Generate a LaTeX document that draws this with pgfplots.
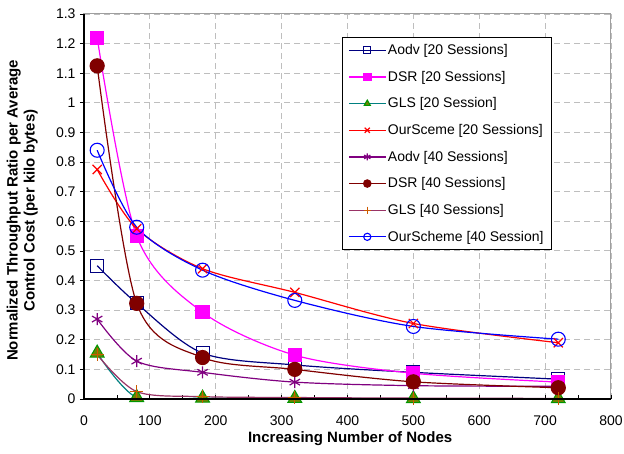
\documentclass[border=0pt]{standalone}
\usepackage{fontspec}
\setmainfont{Liberation Sans}
\usepackage{pgfplots}
\pgfplotsset{compat=1.18}
\definecolor{aodvA}{RGB}{0,0,128}
\definecolor{dsrA}{RGB}{255,0,255}
\definecolor{glsA}{RGB}{0,128,128}
\definecolor{glsAfill}{RGB}{110,130,0}
\definecolor{glsAedge}{RGB}{0,150,0}
\definecolor{oursA}{RGB}{255,0,0}
\definecolor{aodvB}{RGB}{128,0,128}
\definecolor{dsrB}{RGB}{128,0,0}
\definecolor{glsB}{RGB}{153,51,102}
\definecolor{glsBmark}{RGB}{204,90,0}
\definecolor{oursB}{RGB}{0,0,255}
\definecolor{gridgray}{RGB}{190,190,190}

\begin{document}
\begin{tikzpicture}
\useasboundingbox (-84pt,-54pt) rectangle (540pt,399pt);
\begin{axis}[
    scale only axis, width=527pt, height=385pt,
    xmin=0, xmax=800, ymin=0, ymax=1.3,
    xtick={0,100,...,800},
    ytick={0,0.1,0.2,0.3,0.4,0.5,0.6,0.7,0.8,0.9,1,1.1,1.2,1.3},
    minor x tick num=1,
    tick pos=left, tick align=inside,
    major tick length=4pt, minor tick length=4pt,
    ytick style={xshift=-4pt},
    tick style={black, line width=0.8pt},
    yticklabel style={/pgf/number format/fixed, /pgf/number format/precision=1, xshift=-5pt},
    /pgf/number format/assume math mode=true,
    ticklabel style={font=\fontsize{14}{16}\selectfont},
    xticklabel style={yshift=-13pt},
    grid=major,
    major grid style={gridgray, dash pattern=on 6pt off 4pt, line width=0.9pt},
    axis line style={gray!75, line width=1pt},
    xlabel={Increasing Number of Nodes},
    ylabel={Normalized Throughput Ratio per Average\\Control Cost (per kilo bytes)},
    xlabel style={font=\bfseries\fontsize{15}{17}\selectfont, at={(axis description cs:0.505,-0.103)}, anchor=center},
    ylabel style={font=\bfseries\fontsize{15}{17}\selectfont, align=center, at={(axis description cs:-0.117,0.49)}, anchor=center},
    every axis plot/.append style={smooth, line width=1.2pt},
    legend cell align=left,
    legend style={at={(0.888,0.940)}, anchor=north east, draw=black, line width=0.8pt,
        font=\fontsize{14}{16}\selectfont, row sep=11pt, inner xsep=6pt, inner ysep=5pt},
    legend image code/.code={\draw[line width=1.3pt, mark repeat=2, mark phase=2, mark size=3.6pt]
        plot coordinates {(0pt,0pt) (18pt,0pt) (36pt,0pt)};},
]
\addplot[aodvA, mark=square, mark size=6.5pt, mark options={line width=1.1pt}]
    coordinates {(20,0.45) (80,0.323) (180,0.155) (320,0.115) (500,0.09) (720,0.067)};
\addlegendentry{Aodv [20 Sessions]}
\addplot[dsrA, mark=square*, mark size=6.5pt]
    coordinates {(20,1.22) (80,0.55) (180,0.293) (320,0.148) (500,0.087) (720,0.057)};
\addlegendentry{DSR [20 Sessions]}
\addplot[glsA, mark=triangle*, mark size=8pt, mark options={fill=glsAfill, draw=glsAedge, line width=1pt}]
    coordinates {(20,0.155) (80,0.005) (180,0.003) (320,0.002) (500,0.001) (720,0.001)};
\addlegendentry{GLS [20 Session]}
\addplot[oursA, mark=x, mark size=6.5pt]
    coordinates {(20,0.775) (80,0.575) (180,0.44) (320,0.36) (500,0.255) (720,0.19)};
\addlegendentry{OurSceme [20 Sessions]}
\addplot[aodvB, mark=asterisk, mark size=6pt]
    coordinates {(20,0.27) (80,0.128) (180,0.09) (320,0.057) (500,0.045) (720,0.043)};
\addlegendentry{Aodv [40 Sessions]}
\addplot[dsrB, mark=*, mark size=7pt]
    coordinates {(20,1.125) (80,0.323) (180,0.14) (320,0.10) (500,0.058) (720,0.038)};
\addlegendentry{DSR [40 Sessions]}
\addplot[glsB, mark=+, mark size=6.5pt, mark options={draw=glsBmark}]
    coordinates {(20,0.15) (80,0.025) (180,0.008) (320,0.005) (500,0.003) (720,0.002)};
\addlegendentry{GLS [40 Sessions]}
\addplot[oursB, mark=o, mark size=7pt, mark options={line width=1.1pt}]
    coordinates {(20,0.84) (80,0.58) (180,0.435) (320,0.333) (500,0.245) (720,0.202)};
\addlegendentry{OurScheme [40 Session]}
\end{axis}
\draw[black, line width=1.2pt] (current axis.north west) -- (current axis.south west) -- (current axis.south east);
\end{tikzpicture}
\end{document}
